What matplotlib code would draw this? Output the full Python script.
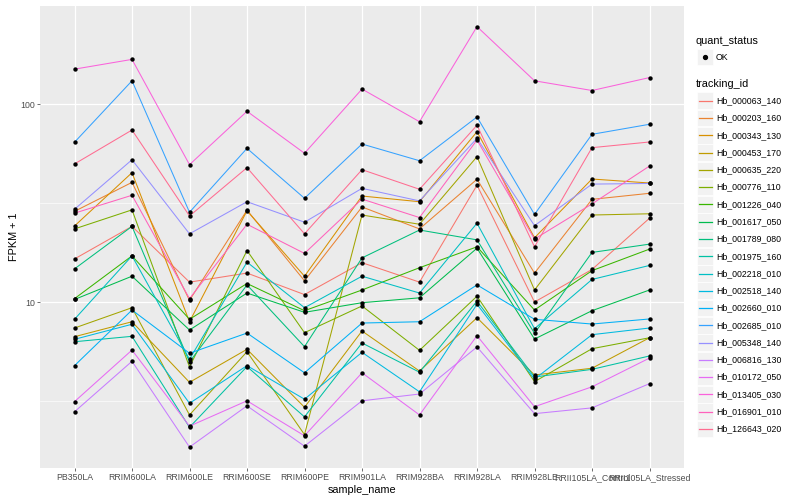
import matplotlib
matplotlib.use('Agg')
import matplotlib.pyplot as plt
from matplotlib.lines import Line2D
from matplotlib.patches import Rectangle
from matplotlib.ticker import FixedLocator, NullFormatter

plt.rcParams['font.family'] = ['Liberation Sans', 'DejaVu Sans']

samples = ['PB350LA', 'RRIM600LA', 'RRIM600LE', 'RRIM600SE', 'RRIM600PE',
           'RRIM901LA', 'RRIM928BA', 'RRIM928LA', 'RRIM928LE',
           'RRII105LA_Control', 'RRII105LA_Stressed']

tracking_ids = ['Hb_000063_140', 'Hb_000203_160', 'Hb_000343_130', 'Hb_000453_170',
                'Hb_000635_220', 'Hb_000776_110', 'Hb_001226_040', 'Hb_001617_050',
                'Hb_001789_080', 'Hb_001975_160', 'Hb_002218_010', 'Hb_002518_140',
                'Hb_002660_010', 'Hb_002685_010', 'Hb_005348_140', 'Hb_006816_130',
                'Hb_010172_050', 'Hb_013405_030', 'Hb_016901_010', 'Hb_126643_020']

palette = ['#F8766D', '#EA8331', '#D89000', '#C09B00', '#A3A500', '#7CAE00',
           '#39B600', '#00BB4E', '#00BF7D', '#00C1A3', '#00BFC4', '#00BAE0',
           '#00B0F6', '#35A2FF', '#9590FF', '#C77CFF', '#E76BF3', '#FA62DB',
           '#FF62BC', '#FF6C91']

# FPKM + 1 per sample, in the order of `samples`
hb_000063_140 = [16.5, 24.1, 12.6, 14.0, 10.9, 15.8, 12.6, 38.9, 10.0, 14.6, 26.5]
hb_000203_160 = [28.7, 40.2, 10.2, 29.1, 12.8, 30.2, 23.4, 41.7, 14.0, 33.0, 35.4]
hb_000343_130 = [24.2, 45.0, 7.95, 28.9, 13.5, 34.3, 32.1, 72.5, 21.1, 41.8, 39.9]
hb_000453_170 = [6.68, 7.95, 3.93, 5.77, 2.94, 7.14, 4.48, 8.33, 4.28, 4.63, 6.60]
hb_000635_220 = [7.39, 9.36, 2.69, 5.61, 2.14, 27.5, 24.7, 54.2, 11.5, 27.5, 27.9]
hb_000776_110 = [23.4, 29.2, 4.7, 18.2, 7.0, 9.55, 5.7, 10.7, 3.96, 5.81, 6.6]
hb_001226_040 = [10.4, 17.1, 8.18, 12.4, 9.04, 11.5, 14.9, 19.0, 9.11, 14.4, 18.5]
hb_001617_050 = [10.3, 13.5, 7.22, 11.1, 8.87, 9.92, 10.5, 18.7, 6.5, 9.04, 11.5]
hb_001789_080 = [14.7, 24.1, 4.98, 12.2, 5.95, 16.7, 23.1, 20.6, 6.95, 17.8, 19.6]
hb_001975_160 = [6.3, 6.71, 2.33, 4.72, 2.63, 6.21, 4.42, 10.1, 4.18, 4.57, 5.34]
hb_002218_010 = [8.18, 17.1, 5.14, 15.9, 9.36, 13.5, 11.1, 25.0, 7.33, 13.0, 15.3]
hb_002518_140 = [6.48, 7.72, 3.08, 4.77, 3.23, 5.57, 3.52, 9.74, 4.08, 6.84, 7.39]
hb_002660_010 = [4.77, 9.11, 5.51, 6.97, 4.39, 7.83, 7.95, 12.2, 8.18, 7.74, 8.21]
hb_002685_010 = [64.1, 131, 28.4, 59.7, 33.4, 62.8, 51.7, 86.0, 27.7, 70.3, 79.0]
hb_005348_140 = [29.4, 52.3, 22.1, 32.1, 25.3, 37.5, 32.4, 67.1, 24.3, 39.4, 39.7]
hb_006816_130 = [2.79, 5.02, 1.85, 2.99, 1.87, 3.17, 3.43, 5.93, 2.73, 2.92, 3.87]
hb_010172_050 = [3.14, 5.72, 2.36, 3.17, 2.11, 4.39, 2.69, 6.76, 2.96, 3.73, 5.21]
hb_013405_030 = [150, 168, 49.4, 91.9, 56.4, 119, 81.4, 246, 131, 117, 136]
hb_016901_010 = [28.1, 34.6, 10.4, 24.7, 17.6, 33.1, 26.7, 65.8, 20.8, 31.3, 48.6]
hb_126643_020 = [49.8, 73.9, 27.2, 47.7, 22.1, 46.6, 37.1, 78.1, 19.0, 60.2, 64.3]

series = [hb_000063_140, hb_000203_160, hb_000343_130, hb_000453_170, hb_000635_220,
          hb_000776_110, hb_001226_040, hb_001617_050, hb_001789_080, hb_001975_160,
          hb_002218_010, hb_002518_140, hb_002660_010, hb_002685_010, hb_005348_140,
          hb_006816_130, hb_010172_050, hb_013405_030, hb_016901_010, hb_126643_020]

W, H = 800, 500
fig = plt.figure(figsize=(8, 5), dpi=100)
L, R, T, B = 40, 684, 5.7, 468
ax = fig.add_axes([L / W, 1 - B / H, (R - L) / W, (B - T) / H])
ax.set_facecolor('#EBEBEB')
for s in ax.spines.values():
    s.set_visible(False)

xpos = list(range(len(samples)))
for vals, col in zip(series, palette):
    ax.plot(xpos, vals, color=col, lw=0.75, zorder=2)
for vals in series:
    ax.scatter(xpos, vals, s=10, color='black', zorder=3, linewidths=0)

ax.set_yscale('log')
ax.set_ylim(1.451, 313.7)
ax.set_xlim(-0.6, len(samples) - 1 + 0.6)
ax.set_yticks([10, 100])
ax.set_yticklabels(['10', '100'])
ax.yaxis.set_minor_locator(FixedLocator([10 ** 0.5, 10 ** 1.5, 10 ** 2.5]))
ax.yaxis.set_minor_formatter(NullFormatter())
ax.set_xticks(xpos)
ax.set_xticklabels(samples)
ax.grid(which='major', color='white', lw=0.9, zorder=0)
ax.grid(which='minor', axis='y', color='white', lw=0.45, zorder=0)
ax.set_axisbelow(True)
ax.tick_params(axis='both', which='major', length=2.2, width=0.5, color='#333333',
               labelsize=6.3, labelcolor='#4D4D4D', pad=1.6)
ax.tick_params(axis='y', which='minor', length=0)
ax.set_xlabel('sample_name', fontsize=7.8, labelpad=2)
ax.set_ylabel('FPKM + 1', fontsize=7.8, labelpad=0.5)

# legends (figure pixel coordinates)
def fx(x):
    return x / W

def fy(y):
    return 1 - y / H

fig.text(fx(696), fy(40.7), 'quant_status', fontsize=7.8, va='center', ha='left')
fig.patches.append(Rectangle((fx(697), fy(65)), 16 / W, 16 / H, transform=fig.transFigure,
                             facecolor='#F2F2F2', edgecolor='white', lw=0.5))
fig.lines.append(Line2D([fx(705)], [fy(57)], transform=fig.transFigure, marker='o',
                        markersize=2.8, color='black', lw=0))
fig.text(fx(716), fy(57), 'OK', fontsize=6.3, va='center', ha='left')

fig.text(fx(696), fy(84.3), 'tracking_id', fontsize=7.8, va='center', ha='left')
step = 17.28
for i, (tid, col) in enumerate(zip(tracking_ids, palette)):
    yc = 100.7 + step * i
    fig.patches.append(Rectangle((fx(697), fy(yc + 8.3)), 16 / W, 16.6 / H,
                                 transform=fig.transFigure, facecolor='#F2F2F2',
                                 edgecolor='white', lw=0.5))
    fig.lines.append(Line2D([fx(698.5), fx(711.5)], [fy(yc), fy(yc)],
                            transform=fig.transFigure, color=col, lw=0.9))
    fig.text(fx(716), fy(yc), tid, fontsize=6.3, va='center', ha='left')

fig.savefig('out.png', dpi=100)
